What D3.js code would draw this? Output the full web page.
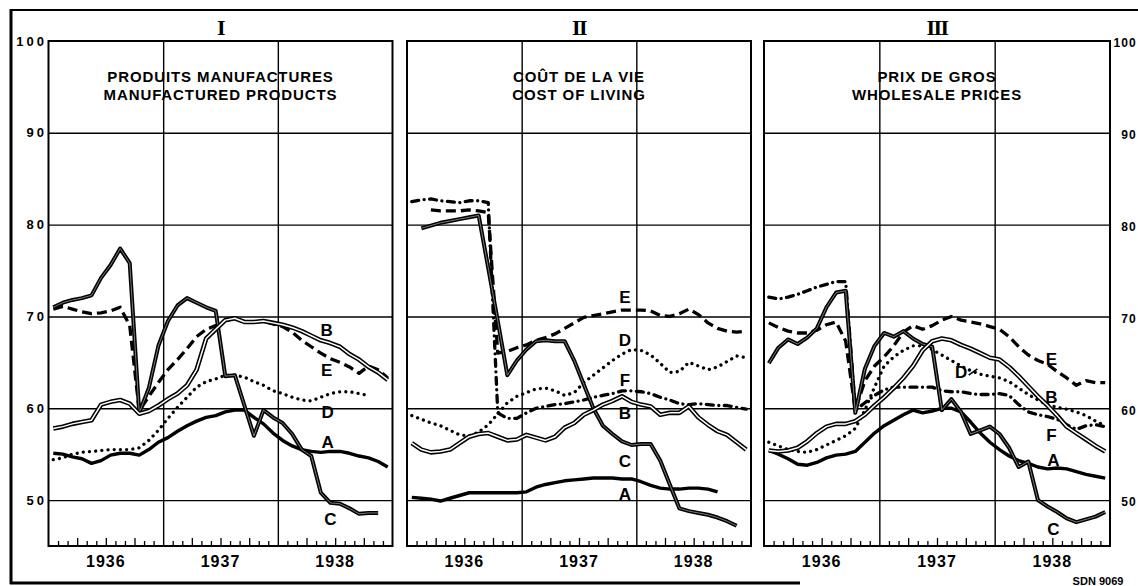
<!DOCTYPE html>
<html><head><meta charset="utf-8">
<script src="https://cdn.jsdelivr.net/npm/d3@7"></script>
<style>
html,body{margin:0;padding:0;background:#fff;}
svg{display:block;}
text{font-family:"Liberation Sans",Arial,sans-serif;fill:#000;}
</style></head><body>
<svg id="chart" width="1138" height="586"></svg>
<script>
// ---------------- DATA ----------------
const months = d3.range(36);                 // Jan 1936 .. Dec 1938
const yearLabels = ["1936", "1937", "1938"];
const yTickValues = [50, 60, 70, 80, 90, 100];
const panelNumerals = ["I", "II", "III"];
const titlesFr = ["PRODUITS MANUFACTURES", "COÛT DE LA VIE", "PRIX DE GROS"];
const titlesEn = ["MANUFACTURED PRODUCTS", "COST OF LIVING", "WHOLESALE PRICES"];
const seriesNames = ["A", "B", "C", "D", "E", "F"];
const _ = null;

// Panel I — manufactured products
const p1A = [55.1,55.0,54.7,54.5,54.0,54.3,54.9,55.1,55.1,54.9,55.5,56.3,56.8,57.5,58.1,58.6,59.0,59.2,59.6,59.8,59.8,59.0,58.3,57.3,56.5,55.9,55.5,55.3,55.2,55.3,55.3,55.1,54.8,54.6,54.2,53.6];
const p1B = [57.8,58.0,58.3,58.5,58.7,60.4,60.7,60.9,60.5,59.4,59.7,60.3,61.0,61.6,62.5,64.2,67.6,68.6,69.6,69.8,69.4,69.4,69.5,69.3,69.1,68.8,68.4,67.9,67.4,67.1,66.7,65.9,65.3,64.5,63.9,63.1];
const p1C = [71.0,71.5,71.8,72.0,72.3,74.2,75.6,77.4,75.8,59.5,62.2,66.8,69.5,71.2,72.0,71.5,71.0,70.6,63.5,63.6,60.3,57.0,59.8,59.0,58.4,57.2,55.5,54.8,50.8,49.7,49.6,49.1,48.5,48.6,48.6,_];
const p1D = [54.4,54.6,55.0,55.2,55.3,55.4,55.5,55.5,55.5,55.7,56.5,57.6,58.9,60.1,61.2,62.3,62.9,63.2,63.6,63.6,63.4,62.9,62.5,61.9,61.6,61.2,60.9,60.8,61.2,61.6,61.8,61.8,61.6,61.4,_,_];
const p1E = [70.8,71.1,70.8,70.5,70.3,70.4,70.6,71.0,69.0,59.7,61.3,62.8,64.2,65.3,66.5,67.8,68.6,69.0,69.6,69.8,69.4,69.4,69.5,69.2,68.9,68.3,67.4,66.7,66.0,65.4,65.0,64.5,63.8,64.6,64.2,63.3];

// Panel II — cost of living
const p2A = [50.3,50.2,50.1,49.9,50.2,50.5,50.8,50.8,50.8,50.8,50.8,50.8,50.9,51.4,51.7,51.9,52.1,52.2,52.3,52.4,52.4,52.4,52.3,52.3,52.0,51.6,51.3,51.2,51.2,51.3,51.3,51.2,50.9,_,_,_];
const p2B = [56.2,55.5,55.2,55.3,55.5,56.2,56.9,57.2,57.3,56.9,56.5,56.6,57.1,56.8,56.5,56.9,57.9,58.4,59.3,59.8,60.4,60.8,61.3,60.7,60.4,60.2,59.3,59.5,59.5,60.2,59.0,58.2,57.5,57.1,56.3,55.5];
const p2C = [_,79.6,79.9,80.2,80.4,80.6,80.8,81.0,75.3,69.5,63.6,65.2,66.4,67.3,67.4,67.3,67.3,65.2,62.6,60.0,58.1,57.2,56.4,56.0,56.1,56.1,54.3,51.7,49.1,48.8,48.6,48.4,48.1,47.7,47.2,_];
const p2D = [59.2,58.8,58.4,58.1,57.6,57.1,57.0,57.4,58.2,59.4,60.6,61.3,61.7,62.1,62.2,61.9,61.4,61.7,62.8,63.6,64.4,65.2,65.9,66.4,66.3,65.8,64.9,63.9,64.0,65.0,64.6,64.2,64.5,65.1,65.7,65.5];
const p2E = [_,_,81.6,81.5,81.5,81.5,81.6,81.5,81.3,66.0,66.2,66.6,66.9,67.4,67.7,68.1,68.7,69.3,69.9,70.1,70.3,70.5,70.7,70.7,70.7,70.6,70.1,70.0,70.3,70.8,70.2,69.3,68.7,68.4,68.3,68.4];
const p2F = [82.5,82.7,82.8,82.6,82.5,82.4,82.6,82.6,82.4,59.5,58.9,58.9,59.5,60.0,60.2,60.4,60.5,60.7,60.9,61.2,61.4,61.6,61.9,61.9,61.8,61.6,61.2,60.9,60.5,60.4,60.5,60.4,60.3,60.3,60.1,59.9];

// Panel III — wholesale prices
const p3A = [55.4,55.0,54.5,53.9,53.8,54.1,54.6,54.9,55.0,55.3,56.3,57.3,58.1,58.7,59.3,59.8,59.5,59.7,60.0,60.0,59.6,58.5,57.3,56.3,55.5,54.8,54.3,54.0,53.6,53.4,53.5,53.4,53.1,52.8,52.6,52.4];
const p3B = [55.4,55.3,55.4,55.7,56.4,57.3,58.0,58.3,58.3,58.6,59.3,60.3,61.2,62.2,63.3,64.6,66.3,67.3,67.6,67.4,66.9,66.5,66.0,65.5,65.3,64.5,63.5,62.4,61.3,60.3,59.2,58.0,57.3,56.6,55.9,55.3];
const p3C = [64.9,66.6,67.5,67.0,67.7,68.7,71.0,72.6,72.8,59.5,64.3,66.8,68.2,67.8,68.4,67.6,67.0,66.7,59.8,61.0,59.6,57.2,57.6,58.0,57.2,55.7,53.6,54.2,50.0,49.3,48.7,48.0,47.6,47.9,48.2,48.7];
const p3D = [56.3,55.9,55.5,55.3,55.2,55.5,56.0,56.5,57.0,57.8,59.8,62.3,64.6,65.6,66.3,66.8,66.8,66.4,65.8,65.2,64.6,64.1,63.7,63.5,63.3,62.9,62.2,61.5,60.9,60.4,60.1,59.9,59.6,59.2,58.6,58.1];
const p3E = [69.3,68.8,68.4,68.2,68.2,68.5,69.1,69.4,67.3,59.8,63.0,64.6,65.6,66.8,68.3,69.0,68.6,69.0,69.6,70.0,69.6,69.4,69.2,68.9,68.6,67.8,66.7,65.8,65.2,64.8,64.0,63.3,62.5,63.0,62.8,62.8];
const p3F = [72.1,71.9,72.1,72.4,72.8,73.2,73.5,73.8,73.8,59.8,60.6,61.4,62.0,62.3,62.3,62.3,62.3,62.3,61.9,61.8,61.8,61.6,61.5,61.5,61.6,61.4,60.4,59.6,59.3,59.1,58.8,58.2,57.7,58.1,58.2,58.0];

// Curve-letter anchors (month, index value)
const p1Labels = {A:[29.2,56.3], B:[29.1,68.5], C:[29.5,47.9], D:[29.2,59.6], E:[29.1,64.2]};
const p2Labels = {A:[22.8,50.7], B:[22.8,59.5], C:[22.8,54.3], D:[22.8,67.5], E:[22.8,72.1], F:[22.8,63.1]};
const p3Labels = {A:[30.1,54.4], B:[29.9,61.2], C:[30.1,46.9], D:[20.5,64.0], E:[29.9,65.4], F:[29.9,57.1]};

// ---------------- LAYOUT ----------------
const svg = d3.select("#chart");
const plotTop = 41, plotBottom = 546;
const panels = [
  {left: 48.5, right: 392.5, series: {A:p1A, B:p1B, C:p1C, D:p1D, E:p1E}, labels: p1Labels},
  {left: 407, right: 751, series: {A:p2A, B:p2B, C:p2C, D:p2D, E:p2E, F:p2F}, labels: p2Labels},
  {left: 764, right: 1110, series: {A:p3A, B:p3B, C:p3C, D:p3D, E:p3E, F:p3F}, labels: p3Labels}
];
const y = d3.scaleLinear().domain([45, 100]).range([plotBottom, plotTop]);

// outer frame
svg.append("line").attr("x1", 10).attr("x2", 1138).attr("y1", 10).attr("y2", 10).attr("stroke", "#000").attr("stroke-width", 2);
svg.append("line").attr("x1", 11).attr("x2", 11).attr("y1", 9).attr("y2", 584).attr("stroke", "#000").attr("stroke-width", 3);
svg.append("line").attr("x1", 10).attr("x2", 800).attr("y1", 583).attr("y2", 583).attr("stroke", "#000").attr("stroke-width", 3);

const drawOrder = ["D", "E", "F", "A", "C", "B"];

panels.forEach((p, pi) => {
  const x = d3.scaleLinear().domain([0, 36]).range([p.left, p.right]);
  const g = svg.append("g");

  // horizontal grid
  g.append("g").attr("transform", `translate(${p.left},0)`)
    .call(d3.axisLeft(y).tickValues(yTickValues.filter(v => v < 100)).tickSize(-(p.right - p.left)).tickFormat(""))
    .call(s => s.select(".domain").remove())
    .call(s => s.selectAll("line").attr("stroke", "#000").attr("stroke-width", 1.4));

  // vertical year grid
  g.append("g").attr("transform", `translate(0,${plotTop})`)
    .call(d3.axisBottom(x).tickValues([12, 24]).tickSize(plotBottom - plotTop).tickFormat(""))
    .call(s => s.select(".domain").remove())
    .call(s => s.selectAll("line").attr("stroke", "#000").attr("stroke-width", 1.4));

  // month ticks (pointing up)
  const minor = months.filter(m => m % 12 !== 0 && m % 3 !== 0);
  const major = months.filter(m => m % 12 !== 0 && m % 3 === 0);
  [[minor, 5], [major, 8]].forEach(([vals, len]) => {
    g.append("g").attr("transform", `translate(0,${plotBottom})`)
      .call(d3.axisBottom(x).tickValues(vals).tickSize(-len).tickFormat(""))
      .call(s => s.select(".domain").remove())
      .call(s => s.selectAll("line").attr("stroke", "#000").attr("stroke-width", 1.3));
  });

  // year labels
  g.selectAll(".yr").data(yearLabels).join("text")
    .attr("x", (d, i) => x(i * 12 + 6)).attr("y", 567)
    .attr("text-anchor", "middle").attr("font-size", 16).attr("font-weight", "bold")
    .style("letter-spacing", "1px").text(d => d);

  // frame
  g.append("rect").attr("x", p.left).attr("y", plotTop).attr("width", p.right - p.left).attr("height", plotBottom - plotTop)
    .attr("fill", "none").attr("stroke", "#000").attr("stroke-width", 2);

  // numeral + titles
  const cx = (p.left + p.right) / 2;
  g.append("text").attr("x", cx).attr("y", 35).attr("text-anchor", "middle")
    .style("font-family", "'Liberation Serif','Times New Roman',serif").attr("font-weight", "bold")
    .attr("font-size", 22).style("letter-spacing", "-1.5px").text(panelNumerals[pi]);
  g.append("text").attr("x", cx).attr("y", 81.5).attr("text-anchor", "middle").attr("font-size", 15)
    .attr("font-weight", "bold").style("letter-spacing", "0.9px").text(titlesFr[pi]);
  g.append("text").attr("x", cx).attr("y", 100).attr("text-anchor", "middle").attr("font-size", 15)
    .attr("font-weight", "bold").style("letter-spacing", "0.9px").text(titlesEn[pi]);

  // series
  drawOrder.forEach(name => {
    const vals = p.series[name];
    if (!vals) return;
    const d = d3.line().defined(v => v != null).x((v, i) => x(i + 0.5)).y(v => y(v))(vals);
    const base = g.append("path").attr("d", d).attr("fill", "none").attr("stroke", "#000")
      .attr("stroke-linejoin", "round");
    if (name === "A") base.attr("stroke-width", 3.4);
    if (name === "B") {
      base.attr("stroke-width", 4.6);
      g.append("path").attr("d", d).attr("fill", "none").attr("stroke", "#fff").attr("stroke-width", 1.5).attr("stroke-linejoin", "round");
    }
    if (name === "C") {
      base.attr("stroke-width", 4);
      g.append("path").attr("d", d).attr("fill", "none").attr("stroke", "#fff").attr("stroke-width", 0.6).attr("stroke-opacity", 0.8).attr("stroke-linejoin", "round");
    }
    if (name === "D") base.attr("stroke-width", 3.3).attr("stroke-linecap", "round").attr("stroke-dasharray", "0.01 6.2");
    if (name === "E") base.attr("stroke-width", 3.3).attr("stroke-dasharray", "10 5");
    if (name === "F") base.attr("stroke-width", 3.3).attr("stroke-linecap", "round").attr("stroke-dasharray", "7 5.5 0.01 5.5");
  });

  // curve letters
  Object.entries(p.labels).forEach(([name, [m, v]]) => {
    g.append("text").attr("x", x(m)).attr("y", y(v)).attr("dy", "0.36em")
      .attr("text-anchor", "middle").attr("font-size", 17).attr("font-weight", "bold").text(name);
  });
});

// D pointer in panel III
{
  const p = panels[2];
  const x = d3.scaleLinear().domain([0, 36]).range([p.left, p.right]);
  svg.append("line").attr("x1", x(21.3)).attr("y1", y(63.6)).attr("x2", x(22.2)).attr("y2", y(64.3))
    .attr("stroke", "#000").attr("stroke-width", 1.5);
}

// y-axis labels (left of panel I, right of panel III)
svg.append("g").selectAll("text").data(yTickValues).join("text")
  .attr("x", 47).attr("y", d => y(d)).attr("dy", "0.36em").attr("text-anchor", "end")
  .attr("font-size", 13).attr("font-weight", "bold").style("letter-spacing", "3px").text(d => d);
svg.append("g").selectAll("text").data(yTickValues).join("text")
  .attr("x", 1137).attr("y", d => y(d) + 2).attr("dy", "0.36em").attr("text-anchor", "end")
  .attr("font-size", 12).attr("font-weight", "bold").style("letter-spacing", "1.2px").text(d => d);

// reference code
svg.append("text").attr("x", 1098).attr("y", 585).attr("text-anchor", "middle")
  .attr("font-size", 11).attr("font-weight", "bold").text("SDN 9069");
</script>
</body></html>
